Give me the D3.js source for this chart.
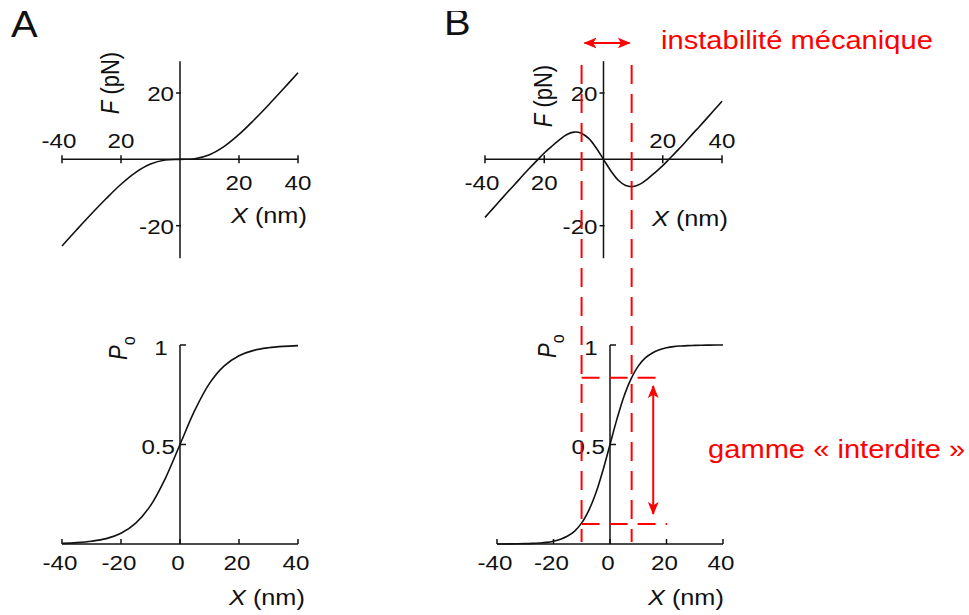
<!DOCTYPE html>
<html><head><meta charset="utf-8">
<script src="https://cdn.jsdelivr.net/npm/d3@7"></script>
<style>body{margin:0;background:#fff}svg{display:block}</style>
</head><body>
<svg id="c" width="969" height="615"></svg>
<script>
// ---------- data ----------
const xA = [-40,-35,-30,-25,-20,-15,-10,-5,0,5,10,15,20,25,30,35,40];
const forceA = [-26.1,-21.2,-16.4,-11.8,-7.5,-3.9,-1.4,-0.2,0,0.2,1.4,3.9,7.5,11.8,16.4,21.2,26.1];
const openA = [0.003,0.007,0.014,0.027,0.054,0.105,0.193,0.329,0.5,0.671,0.807,0.895,0.946,0.973,0.986,0.993,0.997];

const xB = [-40,-37.5,-35,-32.5,-30,-27.5,-25,-22.5,-20,-17.5,-15,-12.5,-10,-7.5,-5,-2.5,0,
            2.5,5,7.5,10,12.5,15,17.5,20,22.5,25,27.5,30,32.5,35,37.5,40];
const forceB = [-17.5,-15.0,-12.5,-10.0,-7.6,-5.1,-2.7,-0.4,1.9,3.9,5.8,7.4,8.2,7.9,6.3,3.5,0,
                -3.5,-6.3,-7.9,-8.2,-7.4,-5.8,-3.9,-1.9,0.4,2.7,5.1,7.6,10.0,12.5,15.0,17.5];
const openB = [0.0002,0.0003,0.0006,0.001,0.0017,0.003,0.005,0.008,0.014,0.024,0.04,0.065,0.106,0.169,0.256,0.37,0.5,
               0.63,0.744,0.831,0.894,0.935,0.96,0.976,0.986,0.992,0.995,0.997,0.998,0.999,0.9994,0.9997,0.9998];

const xTicks = [-40,-20,0,20,40];
const xTickLabelsBottom = ["-40","-20","0","20","40"];
const xTicksTop = [-40,-20,20,40];
const xTickLabelsTop = ["-40","20","20","40"];
const fTicks = [20,-20];
const fTickLabels = ["20","-20"];
const pTicks = [1,0.5];
const pTickLabels = ["1","0.5"];
const fExtent = [-29.8, 29.6];
const instabilityX = [-7.4, 9.5];
const forbiddenP = [0.1, 0.835];
const arrowP = [0.151, 0.794];

// ---------- setup ----------
const svg = d3.select("#c");
const FONT = "'Liberation Sans', Arial, Helvetica, sans-serif";
const INK = "#111";
const RED = "#ff0000";
const SX = 1.15;

function text(x, y, parts, o = {}, parent = svg) {
  const t = parent.append("text")
    .attr("transform", `translate(${x},${y}) scale(${o.sx || SX},1)` + (o.rot ? ` rotate(${o.rot})` : ""))
    .attr("text-anchor", o.anchor || "start")
    .attr("font-family", FONT)
    .attr("font-size", o.size || 21)
    .attr("fill", o.fill || INK);
  if (typeof parts === "string") parts = [{t: parts}];
  parts.forEach(p => {
    const s = t.append("tspan").text(p.t);
    if (p.italic) s.attr("font-style", "italic");
    if (p.size) s.attr("font-size", p.size);
    if (p.dy) s.attr("dy", p.dy);
  });
  return t;
}

const defs = svg.append("defs");
defs.append("marker").attr("id", "ah")
  .attr("viewBox", "0 0 12 12").attr("refX", 11).attr("refY", 6)
  .attr("markerWidth", 13).attr("markerHeight", 13)
  .attr("markerUnits", "userSpaceOnUse").attr("orient", "auto-start-reverse")
  .append("path").attr("d", "M0,1 L12,6 L0,11 L3,6 Z").attr("fill", RED);
defs.append("clipPath").attr("id", "clipB")
  .append("rect").attr("x", 0).attr("y", 11).attr("width", 969).attr("height", 100);

// scales
const xA1 = d3.scaleLinear().domain([-40, 40]).range([62, 298]);
const yA1 = d3.scaleLinear().domain([-20, 20]).range([225.7, 93]);
const xB1 = d3.scaleLinear().domain([-40, 40]).range([485, 722]);
const yB1 = d3.scaleLinear().domain([-20, 20]).range([225.7, 93]);
const xA2 = d3.scaleLinear().domain([-40, 40]).range([62, 298]);
const yA2 = d3.scaleLinear().domain([0, 1]).range([544, 345]);
const xB2 = d3.scaleLinear().domain([-40, 40]).range([497, 723]);
const yB2 = d3.scaleLinear().domain([0, 1]).range([544, 345]);

function line(x1, y1, x2, y2, col = INK, w = 1.5, dash = null) {
  const l = svg.append("line").attr("x1", x1).attr("y1", y1).attr("x2", x2).attr("y2", y2)
    .attr("stroke", col).attr("stroke-width", w);
  if (dash) l.attr("stroke-dasharray", dash);
  return l;
}

// ---------- force panels ----------
function forcePanel(xs, ys, xv, fv, labelsAboveFirst, xlab, flab) {
  const x0 = xs(0), y0 = ys(0);
  line(xs(-40), y0, xs(40), y0);
  line(x0, ys(fExtent[1]), x0, ys(fExtent[0]));
  xTicksTop.forEach((v, i) => {
    line(xs(v), y0 - 4, xs(v), y0 + 4);
    const above = labelsAboveFirst ? i < 2 : i >= 2;
    text(xs(v) + (v === -40 ? -3 : 0), above ? y0 - 11 : y0 + 31, xTickLabelsTop[i], {anchor: "middle"});
  });
  fTicks.forEach((v, i) => {
    line(x0 - 4, ys(v), x0 + 1, ys(v));
    text(x0 - 6, ys(v) + 8, fTickLabels[i], {anchor: "end"});
  });
  svg.append("path").datum(xv.map((d, i) => [d, fv[i]]))
    .attr("fill", "none").attr("stroke", INK).attr("stroke-width", 1.6)
    .attr("d", d3.line().x(d => xs(d[0])).y(d => ys(d[1])).curve(d3.curveCatmullRom));
  text(xlab[0], xlab[1], [{t: "X", italic: true}, {t: " (nm)"}], {size: 22});
  text(flab[0], flab[1], [{t: "F", italic: true}, {t: " (pN)"}], {size: 22, rot: -90, anchor: "middle"});
}

function openPanel(xs, ys, xv, pv, xlab, plab) {
  const x0 = xs(0), y0 = ys(0);
  line(xs(-40), y0, xs(40), y0);
  line(x0, ys(1), x0, y0);
  xTicks.forEach((v, i) => {
    line(xs(v), y0, xs(v), y0 - 5);
    text(xs(v) - 2, y0 + 26, xTickLabelsBottom[i], {anchor: "middle"});
  });
  pTicks.forEach((v, i) => {
    line(x0, ys(v), x0 + 6, ys(v));
    if (v === 1) text(x0 - 19, ys(v) + 10, pTickLabels[i], {anchor: "middle"});
    else text(x0 - 5, ys(v) + 9, pTickLabels[i], {anchor: "end"});
  });
  svg.append("path").datum(xv.map((d, i) => [d, pv[i]]))
    .attr("fill", "none").attr("stroke", INK).attr("stroke-width", 1.6)
    .attr("d", d3.line().x(d => xs(d[0])).y(d => ys(d[1])).curve(d3.curveCatmullRom));
  text(xlab[0], xlab[1], [{t: "X", italic: true}, {t: " (nm)"}], {size: 22});
  text(plab[0], plab[1], [{t: "P", italic: true, size: 22}, {t: "o", size: 16, dy: 7}], {rot: -90, anchor: "start"});
}

forcePanel(xA1, yA1, xA, forceA, true, [231, 223], [119, 83]);
forcePanel(xB1, yB1, xB, forceB, false, [652, 226], [552, 96]);
openPanel(xA2, yA2, xA, openA, [229, 605], [127, 360]);
openPanel(xB2, yB2, xB, openB, [648, 605], [556, 358]);

// ---------- panel letters ----------
text(11, 37, "A", {size: 37, sx: 1.08});
const gB = svg.append("g").attr("clip-path", "url(#clipB)");
text(444, 35, "B", {size: 37, sx: 1.08}, gB);

// ---------- red annotations ----------
instabilityX.forEach(v => {
  line(xB1(v), 65, xB1(v), 542, RED, 2, "19,10");
});
line(xB1(instabilityX[0]), yB2(forbiddenP[1]), xB2(18.5), yB2(forbiddenP[1]), RED, 2, "18,10");
line(xB1(instabilityX[0]), yB2(forbiddenP[0]), xB2(20.2), yB2(forbiddenP[0]), RED, 2, "18,10");

svg.append("line")
  .attr("x1", xB1(instabilityX[0]) + 3).attr("y1", 43)
  .attr("x2", xB1(instabilityX[1]) - 2).attr("y2", 43)
  .attr("stroke", RED).attr("stroke-width", 2)
  .attr("marker-start", "url(#ah)").attr("marker-end", "url(#ah)");
svg.append("line")
  .attr("x1", xB2(15.3)).attr("y1", yB2(arrowP[1]))
  .attr("x2", xB2(15.3)).attr("y2", yB2(arrowP[0]))
  .attr("stroke", RED).attr("stroke-width", 2)
  .attr("marker-start", "url(#ah)").attr("marker-end", "url(#ah)");

text(661, 49, "instabilité mécanique", {size: 26, sx: 1.12, fill: RED});
text(708, 458, "gamme « interdite »", {size: 26, sx: 1.12, fill: RED});
</script>
</body></html>
